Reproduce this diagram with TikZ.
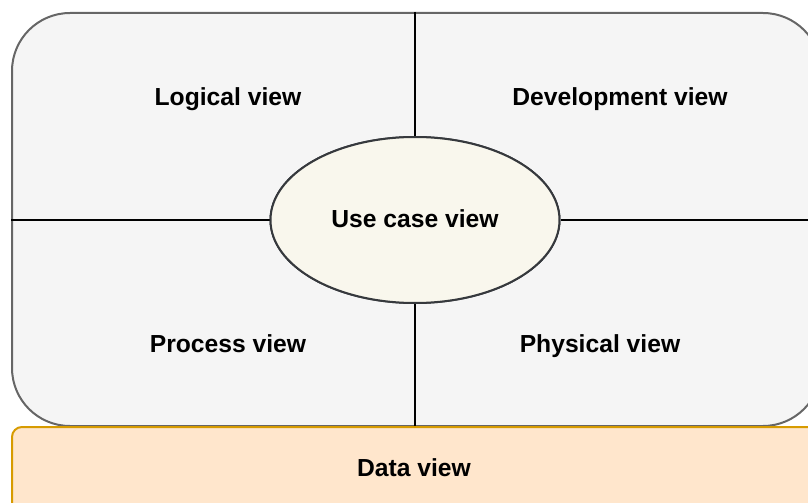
\documentclass[tikz,border=0pt]{standalone}
\usepackage{fontspec}
\setmainfont{Liberation Sans}
\usetikzlibrary{shapes.geometric}
\definecolor{mainfill}{HTML}{F5F5F5}
\definecolor{maindraw}{HTML}{666666}
\definecolor{ucfill}{HTML}{F9F7ED}
\definecolor{ucdraw}{HTML}{36393D}
\definecolor{datafill}{HTML}{FFE6CC}
\definecolor{datadraw}{HTML}{D79B00}
\tikzset{
  px/.style={x=0.75pt,y=-0.75pt},
  mainbox/.style={draw=maindraw,fill=mainfill,line width=1.5pt,rounded corners=43.5pt,
    minimum width=606.75pt,minimum height=309.75pt,inner sep=0pt},
  ucell/.style={ellipse,draw=ucdraw,fill=ucfill,line width=1.5pt,
    minimum width=216.75pt,minimum height=124.5pt,inner sep=0pt},
  databox/.style={draw=datadraw,fill=datafill,line width=1.5pt,rounded corners=7.5pt,
    minimum width=606.75pt,minimum height=72pt,inner sep=0pt},
  lbl/.style={font=\fontsize{18.5pt}{22pt}\selectfont\bfseries,inner sep=0pt,anchor=base},
  divider/.style={draw=black,line width=1.5pt}
}
\begin{document}
\begin{tikzpicture}[px]
\useasboundingbox (0,0) rectangle (808,503);
\clip (0,0) rectangle (808,503);
\node[mainbox] (main) at (416.5,219.5) {};
\node[ucell] (uc) at (415,220) {};
\draw[divider] (uc.north |- main.north) -- (uc.north);
\draw[divider] (uc.south) -- (uc.south |- main.south);
\draw[divider] (main.west |- uc.west) -- (uc.west);
\draw[divider] (uc.east) -- (main.east |- uc.east);
\node[ucell] (uc2) at (415,220) {};
\node[lbl] (ucl) at (415,227.5) {Use case view};
\node[databox] (data) at (416.5,475) {};
\node[lbl] (logical) at (228,106) {Logical view};
\node[lbl] (dev) at (620,106) {Development view};
\node[lbl] (proc) at (228,352) {Process view};
\node[lbl] (phys) at (600,352) {Physical view};
\node[lbl] (datal) at (414,476) {Data view};
\end{tikzpicture}
\end{document}
